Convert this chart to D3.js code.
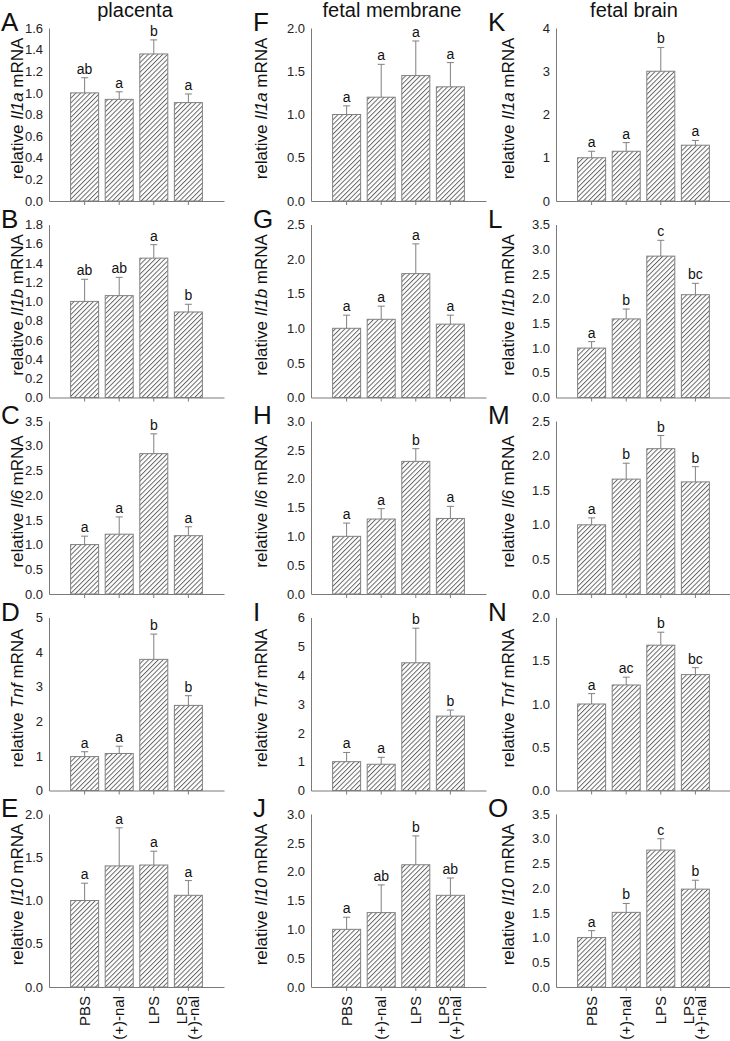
<!DOCTYPE html>
<html>
<head>
<meta charset="utf-8">
<script src="https://cdn.jsdelivr.net/npm/d3@7"></script>
<style>
  body { margin: 0; background: #fff; }
  svg { font-family: "Liberation Sans", Arial, sans-serif; }
</style>
</head>
<body>
<div id="chart"></div>
<script>
// groups on the x axis
var groups = ["PBS", "(+)-nal", "LPS", "LPS|(+)-nal"];
var tissues = ["placenta", "fetal membrane", "fetal brain"];
var genes = ["Il1a", "Il1b", "Il6", "Tnf", "Il10"];
var panelLetters = [["A", "B", "C", "D", "E"], ["F", "G", "H", "I", "J"], ["K", "L", "M", "N", "O"]];

// y axis maximum and tick step, one per gene row
var placentaYMax = [1.6, 1.8, 3.5, 5, 2.0];
var placentaStep = [0.2, 0.2, 0.5, 1, 0.5];
var membraneYMax = [2.0, 2.5, 3.0, 6, 3.0];
var membraneStep = [0.5, 0.5, 0.5, 1, 0.5];
var brainYMax = [4, 3.5, 2.5, 2.0, 3.5];
var brainStep = [1, 0.5, 0.5, 0.5, 0.5];

// means (relative mRNA)
var placentaMean = [
  [1.00, 0.94, 1.36, 0.91],
  [1.00, 1.06, 1.45, 0.89],
  [1.00, 1.21, 2.84, 1.18],
  [0.98, 1.07, 3.79, 2.46],
  [1.00, 1.40, 1.41, 1.06]
];
var membraneMean = [
  [1.00, 1.20, 1.45, 1.32],
  [1.00, 1.13, 1.79, 1.06],
  [1.00, 1.30, 2.30, 1.31],
  [1.00, 0.91, 4.43, 2.58],
  [1.00, 1.29, 2.12, 1.59]
];
var brainMean = [
  [1.00, 1.15, 3.00, 1.29],
  [1.00, 1.59, 2.86, 2.08],
  [1.00, 1.66, 2.10, 1.62],
  [1.00, 1.22, 1.68, 1.34],
  [1.00, 1.51, 2.77, 1.98]
];

// standard errors (drawn upward only)
var placentaSem = [
  [0.14, 0.07, 0.13, 0.08],
  [0.23, 0.19, 0.14, 0.08],
  [0.17, 0.35, 0.40, 0.18],
  [0.14, 0.21, 0.73, 0.28],
  [0.20, 0.44, 0.16, 0.17]
];
var membraneSem = [
  [0.10, 0.38, 0.40, 0.28],
  [0.19, 0.19, 0.43, 0.13],
  [0.23, 0.18, 0.22, 0.21],
  [0.32, 0.24, 1.20, 0.21],
  [0.21, 0.48, 0.50, 0.30]
];
var brainSem = [
  [0.15, 0.20, 0.55, 0.11],
  [0.13, 0.20, 0.32, 0.23],
  [0.10, 0.23, 0.19, 0.22],
  [0.12, 0.09, 0.15, 0.08],
  [0.14, 0.18, 0.23, 0.18]
];

// significance letters
var placentaSig = [
  ["ab", "a", "b", "a"],
  ["ab", "ab", "a", "b"],
  ["a", "a", "b", "a"],
  ["a", "a", "b", "b"],
  ["a", "a", "a", "a"]
];
var membraneSig = [
  ["a", "a", "a", "a"],
  ["a", "a", "a", "a"],
  ["a", "a", "b", "a"],
  ["a", "a", "b", "b"],
  ["a", "ab", "b", "ab"]
];
var brainSig = [
  ["a", "a", "b", "a"],
  ["a", "b", "c", "bc"],
  ["a", "b", "b", "b"],
  ["a", "ac", "b", "bc"],
  ["a", "b", "c", "b"]
];

var means = [placentaMean, membraneMean, brainMean];
var sems = [placentaSem, membraneSem, brainSem];
var sigs = [placentaSig, membraneSig, brainSig];
var yMaxes = [placentaYMax, membraneYMax, brainYMax];
var steps = [placentaStep, membraneStep, brainStep];

// layout
var W = 730, H = 1041;
var axisX = [49, 311, 556];
var labelX = [17, 261, 508];
var letterX = [1, 253, 488];
var titleX = [135, 392, 634];
var rowTop0 = 28, rowGap = 196.5, plotH = 173, plotW = 175;

var axisColor = "#7a7a7a";

var svg = d3.select("#chart")
  .append("svg")
  .attr("width", W)
  .attr("height", H);

// diagonal hatch
var defs = svg.append("defs");
defs.append("pattern")
  .attr("id", "hatch")
  .attr("patternUnits", "userSpaceOnUse")
  .attr("width", 3.4)
  .attr("height", 10)
  .attr("patternTransform", "rotate(45)")
  .append("line")
  .attr("x1", 0.5).attr("y1", 0)
  .attr("x2", 0.5).attr("y2", 10)
  .attr("stroke", "#5a5a5a")
  .attr("stroke-width", 0.9);

// column titles
tissues.forEach(function(t, c) {
  svg.append("text")
    .attr("x", titleX[c])
    .attr("y", 17)
    .attr("text-anchor", "middle")
    .style("font-size", "20px")
    .style("fill", "#111")
    .text(t);
});

tissues.forEach(function(t, c) {
  genes.forEach(function(gene, r) {
    var top = rowTop0 + r * rowGap;
    var bottom = top + plotH;
    var x0 = axisX[c];

    var x = d3.scaleBand()
      .domain(groups)
      .range([x0, x0 + plotW])
      .paddingInner(0.19)
      .paddingOuter(0.625);

    var y = d3.scaleLinear()
      .domain([0, yMaxes[c][r]])
      .range([bottom, top]);

    var step = steps[c][r];
    var ticks = d3.range(0, yMaxes[c][r] + step / 2, step);
    var fmt = step >= 1 ? d3.format("d") : d3.format(".1f");

    var g = svg.append("g");

    // bars
    var vals = means[c][r];
    var errs = sems[c][r];
    var sig = sigs[c][r];

    g.selectAll("rect.bar")
      .data(groups)
      .enter()
      .append("rect")
      .attr("class", "bar")
      .attr("x", function(d) { return x(d); })
      .attr("width", x.bandwidth())
      .attr("y", function(d, i) { return y(vals[i]); })
      .attr("height", function(d, i) { return bottom - y(vals[i]); })
      .attr("fill", "url(#hatch)")
      .attr("stroke", "#808080")
      .attr("stroke-width", 1);

    // error bars, upper half only
    groups.forEach(function(d, i) {
      var cx = x(d) + x.bandwidth() / 2;
      var yTop = y(vals[i] + errs[i]);
      g.append("line")
        .attr("x1", cx).attr("x2", cx)
        .attr("y1", y(vals[i])).attr("y2", yTop)
        .attr("stroke", "#808080");
      g.append("line")
        .attr("x1", cx - 3.5).attr("x2", cx + 3.5)
        .attr("y1", yTop).attr("y2", yTop)
        .attr("stroke", "#808080");
      g.append("text")
        .attr("x", cx)
        .attr("y", yTop - 4)
        .attr("text-anchor", "middle")
        .style("font-size", "14px")
        .style("fill", "#111")
        .text(sig[i]);
    });

    // y axis (no tick marks, labels only)
    var yAxis = d3.axisLeft(y)
      .tickValues(ticks)
      .tickFormat(fmt)
      .tickSize(0)
      .tickSizeOuter(0)
      .tickPadding(6);
    var ya = g.append("g")
      .attr("transform", "translate(" + x0 + ",0)")
      .call(yAxis);
    ya.select(".domain").attr("stroke", axisColor);
    ya.selectAll(".tick text")
      .style("font-size", "13px")
      .style("font-family", "'Liberation Sans Narrow', 'Arial Narrow', 'Liberation Sans', Arial, sans-serif")
      .style("fill", "#222");

    // x axis with ticks at bar centres
    var xAxis = d3.axisBottom(x)
      .tickSize(4)
      .tickSizeOuter(0)
      .tickFormat("");
    var xa = g.append("g")
      .attr("transform", "translate(0," + bottom + ")")
      .call(xAxis);
    xa.select(".domain").attr("stroke", axisColor);
    xa.selectAll(".tick line").attr("stroke", axisColor);

    // y label
    var lab = g.append("text")
      .attr("transform", "translate(" + labelX[c] + "," + (top + plotH / 2 - 6) + ") rotate(-90)")
      .attr("text-anchor", "middle")
      .attr("dy", "0.35em")
      .style("font-size", "17px")
      .style("fill", "#111");
    lab.append("tspan").text("relative ");
    lab.append("tspan").style("font-style", "italic").text(gene);
    lab.append("tspan").text(" mRNA");

    // panel letter
    g.append("text")
      .attr("x", letterX[c])
      .attr("y", top + 3)
      .style("font-size", "26px")
      .style("fill", "#111")
      .text(panelLetters[c][r]);

    // group names under the bottom row
    if (r === genes.length - 1) {
      groups.forEach(function(d) {
        var cx = x(d) + x.bandwidth() / 2;
        var lines = d.split("|");
        var t = g.append("g")
          .attr("transform", "translate(" + cx + "," + (bottom + 9) + ") rotate(-90)");
        lines.forEach(function(s, k) {
          var off = lines.length === 1 ? 0 : (k === 0 ? -7 : 5);
          t.append("text")
            .attr("x", 0)
            .attr("y", off)
            .attr("dy", "0.35em")
            .attr("text-anchor", "end")
            .style("font-size", "15px")
            .style("fill", "#111")
            .text(s);
        });
      });
    }
  });
});
</script>
</body>
</html>
